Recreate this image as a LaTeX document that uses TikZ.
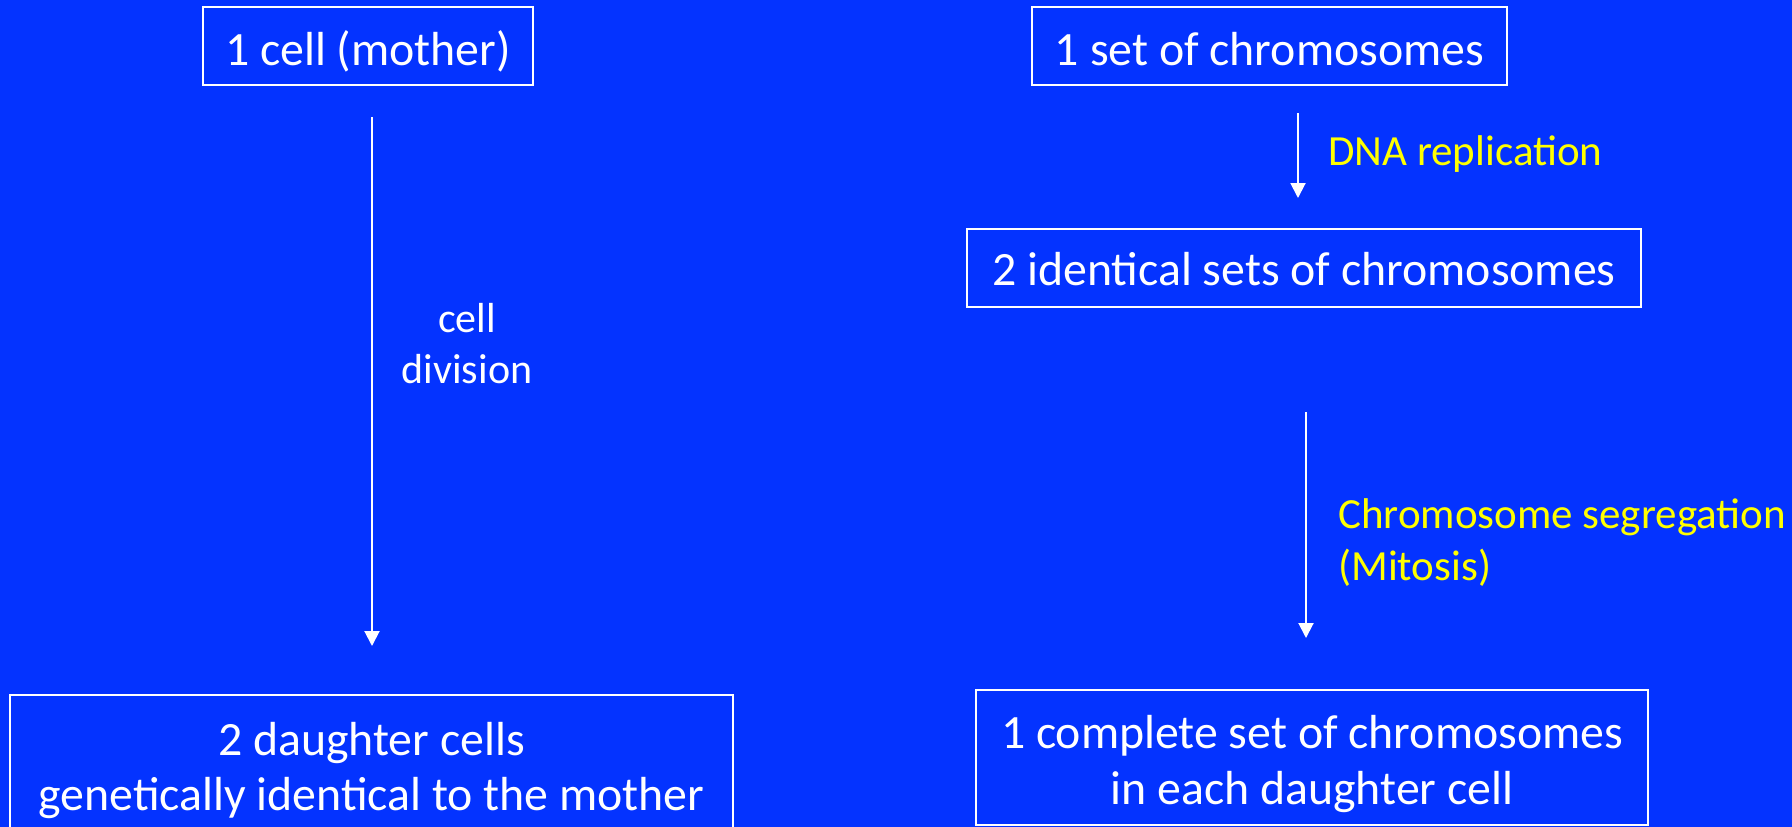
\documentclass[tikz,border=0pt]{standalone}
\usepackage{fontspec}
\setmainfont{Carlito}
\usetikzlibrary{arrows.meta}
\definecolor{bgblue}{RGB}{4,51,255}
\definecolor{lblyellow}{RGB}{255,255,0}
\tikzset{
  boxframe/.style={draw=white, line width=2pt, inner sep=0pt, outer sep=0pt},
  boxtext/.style={text=white, font=\fontsize{47.8}{56}\selectfont, inner sep=0pt, anchor=base},
  steptext/.style={text=white, font=\fontsize{42}{50}\selectfont, inner sep=0pt, anchor=base},
  yellowtext/.style={text=lblyellow, font=\fontsize{43}{50}\selectfont, inner sep=0pt, anchor=base west},
  arr/.style={draw=white, line width=2pt, -{Triangle[width=15pt,length=15pt]}}
}
\begin{document}
\begin{tikzpicture}[x=1pt,y=-1pt]
\useasboundingbox (0,0) rectangle (1792,827);
\fill[bgblue] (0,0) rectangle (1792,827);
\clip (0,0) rectangle (1792,827);

% boxes
\node[boxframe, minimum width=330pt, minimum height=78pt] (b1) at (368,46) {};
\node[boxframe, minimum width=475pt, minimum height=78pt] (b2) at (1269.5,46) {};
\node[boxframe, minimum width=674pt, minimum height=78pt] (b3) at (1304,268) {};
\node[boxframe, minimum width=672pt, minimum height=135pt] (b4) at (1312,757.5) {};
\node[boxframe, minimum width=723pt, minimum height=137pt] (b5) at (371.5,763.5) {};

% box texts
\node[boxtext] (t1) at (368,65) {1 cell (mother)};
\node[boxtext] (t2) at (1269.5,65) {1 set of chromosomes};
\node[boxtext] (t3) at (1304,285) {2 identical sets of chromosomes};
\node[boxtext] (t4a) at (1312,748) {1 complete set of chromosomes};
\node[boxtext] (t4b) at (1312,804) {in each daughter cell};
\node[boxtext] (t5a) at (371.5,755) {2 daughter cells};
\node[boxtext] (t5b) at (371.5,810) {genetically identical to the mother};

% arrows
\coordinate (a1s) at (372,117);
\coordinate (a1e) at (372,646);
\draw[arr] (a1s) -- (a1e);
\coordinate (a2s) at (1298,113);
\coordinate (a2e) at (1298,198);
\draw[arr] (a2s) -- (a2e);
\coordinate (a3s) at (1306,412);
\coordinate (a3e) at (1306,638);
\draw[arr] (a3s) -- (a3e);

% labels
\node[steptext] (l1a) at (467,332) {cell};
\node[steptext] (l1b) at (467,383) {division};
\node[yellowtext] (l2) at (1328,165) {DNA replication};
\node[yellowtext] (l3a) at (1338,528) {Chromosome segregation};
\node[yellowtext] (l3b) at (1338,580) {(Mitosis)};
\end{tikzpicture}
\end{document}
